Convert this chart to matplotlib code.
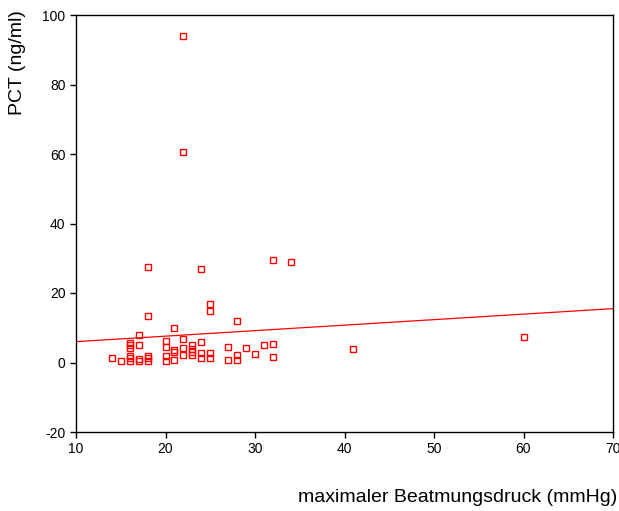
import numpy as np
import matplotlib.pyplot as plt

plt.rcParams['font.family'] = ['Liberation Sans', 'DejaVu Sans']
plt.rcParams['axes.unicode_minus'] = False

# maximaler Beatmungsdruck (mmHg) vs PCT (ng/ml)
druck = [22, 22, 18, 24, 32, 34, 18, 25, 25, 28, 21, 17, 22, 24,
         16, 16, 16, 17, 20, 20, 21, 21, 21, 22, 22,
         23, 23, 23, 23, 24, 24, 25, 25,
         14, 15, 16, 16, 16, 17, 17, 18, 18, 18, 20, 20,
         27, 27, 28, 28, 29, 30, 31, 32, 32, 41, 60]
pct = [94, 60.7, 27.5, 27, 29.5, 29, 13.3, 16.8, 14.8, 12, 10, 8, 6.8, 6,
       5.6, 4.9, 4.2, 4.9, 6.1, 4.4, 3.5, 2.9, 0.8, 4.2, 2.2,
       5.1, 4.0, 3.0, 2.2, 2.7, 1.3, 2.7, 1.3,
       1.3, 0.5, 1.9, 1.3, 0.5, 1.0, 0.3, 1.9, 1.3, 0.5, 1.9, 0.3,
       4.4, 0.8, 2.2, 0.8, 4.2, 2.4, 4.9, 5.3, 1.6, 3.9, 7.3]

# Regressionsgerade
fit_x = [10, 70]
fit_y = [6.0, 15.5]

fig = plt.figure(figsize=(6.19, 5.11), dpi=100)
ax = fig.add_axes([76/619, 1 - 432/511, (613-76)/619, (432-15)/511])

ax.plot(druck, pct, linestyle='none', marker='s', markersize=5,
        markerfacecolor='none', markeredgecolor='red', markeredgewidth=1)
ax.plot(fit_x, fit_y, color='red', linewidth=0.9)

ax.set_xlim(10, 70)
ax.set_ylim(-20, 100)
ax.set_xticks(np.arange(10, 71, 10))
ax.set_yticks(np.arange(-20, 101, 20))
ax.tick_params(direction='out', length=4, width=1, labelsize=10, colors='black')
for s in ax.spines.values():
    s.set_linewidth(1)

fig.text(18/619, 1 - 10/511, 'PCT (ng/ml)', rotation=90, ha='center', va='top', fontsize=14)
fig.text(617/619, 1 - 497/511, 'maximaler Beatmungsdruck (mmHg)', ha='right', va='center', fontsize=14)

fig.savefig('out.png', dpi=100)
